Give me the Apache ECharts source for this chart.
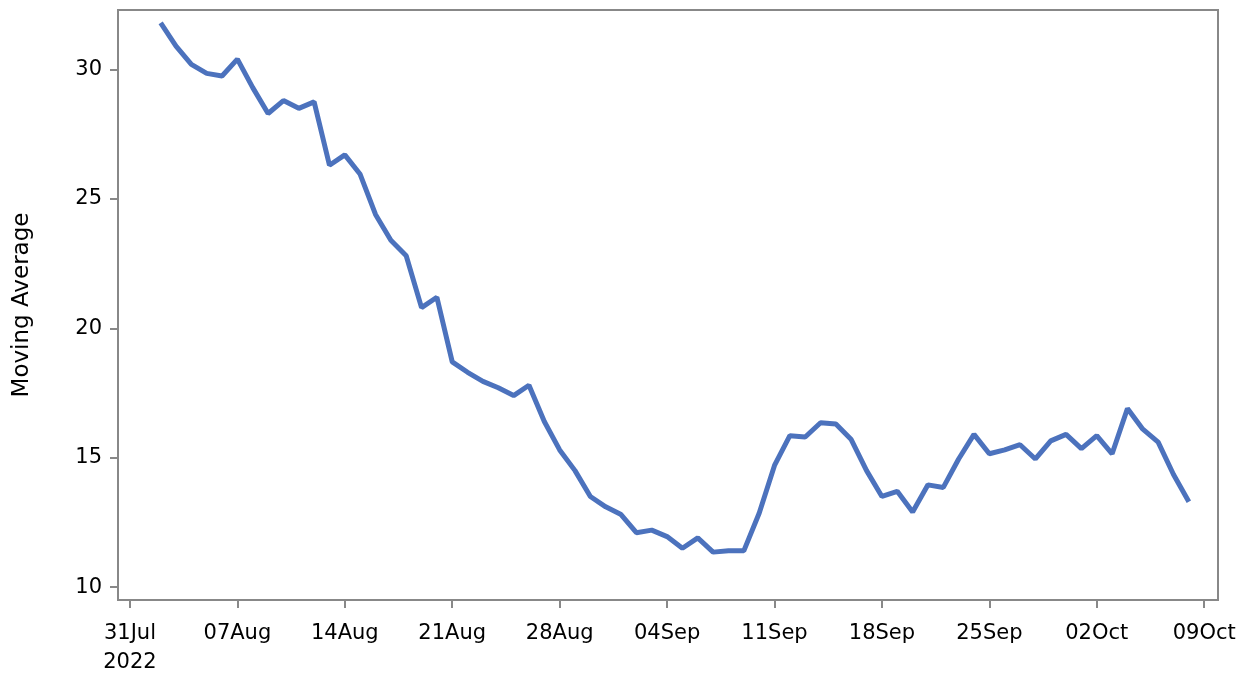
<!DOCTYPE html>
<html>
<head>
<meta charset="utf-8" />
<title></title>
<script src="https://cdn.jsdelivr.net/npm/echarts@6/dist/echarts.min.js"></script>
</head>
<body style="margin:0">
<div id="main" style="width:1250px;height:684px"></div>
<script type="text/javascript">
// daily values from 02 Aug 2022 to 08 Oct 2022
var startDate = Date.UTC(2022, 7, 2);
var values = [31.8, 30.9, 30.2, 29.85, 29.75, 30.4, 29.3, 28.3, 28.8, 28.5, 28.75, 26.3, 26.7, 25.95,
    24.4, 23.4, 22.8, 20.8, 21.2, 18.7, 18.3, 17.95, 17.7, 17.4, 17.8, 16.4, 15.3, 14.5, 13.5, 13.1,
    12.8, 12.1, 12.2, 11.95, 11.5, 11.9, 11.35, 11.4, 11.4, 12.85, 14.7, 15.85, 15.8, 16.35, 16.3,
    15.7, 14.5, 13.5, 13.7, 12.9, 13.95, 13.85, 14.95, 15.9, 15.15, 15.3, 15.5, 14.95, 15.65, 15.9,
    15.35, 15.85, 15.15, 16.9, 16.1, 15.6, 14.35, 13.3];
var yTicks = [10, 15, 20, 25, 30];
var months = ['Jan', 'Feb', 'Mar', 'Apr', 'May', 'Jun', 'Jul', 'Aug', 'Sep', 'Oct', 'Nov', 'Dec'];

var DAY = 86400000;
var firstTick = Date.UTC(2022, 6, 31);
var xTicks = [];
for (var i = 0; i <= 10; i++) xTicks.push(firstTick + i * 7 * DAY);
var points = values.map(function (v, i) { return [startDate + i * DAY, v]; });

var font = 'DejaVu Sans';
var myChart = echarts.init(document.getElementById('main'));
myChart.setOption({
    backgroundColor: 'white',
    grid: {left: 118, right: 32, top: 10, bottom: 84, show: true, borderColor: '#888', borderWidth: 2},
    xAxis: {
        type: 'value',
        min: firstTick - 0.78 * DAY,
        max: xTicks[10] + 0.9 * DAY,
        splitLine: {show: false},
        axisLine: {show: false},
        axisTick: {show: true, customValues: xTicks, length: 8, lineStyle: {color: '#888', width: 2}},
        axisLabel: {
            customValues: xTicks, color: '#000', fontFamily: font, fontSize: 21, lineHeight: 29, margin: 19,
            formatter: function (v) {
                var d = new Date(v);
                var s = ('0' + d.getUTCDate()).slice(-2) + months[d.getUTCMonth()];
                return v === firstTick ? s + '\n' + d.getUTCFullYear() : s;
            }
        }
    },
    yAxis: {
        type: 'value', min: 9.5, max: 32.3,
        name: 'Moving Average', nameLocation: 'middle', nameGap: 84,
        nameTextStyle: {color: '#000', fontFamily: font, fontSize: 23},
        splitLine: {show: false},
        axisLine: {show: false},
        axisTick: {show: true, customValues: yTicks, length: 8, lineStyle: {color: '#888', width: 2}},
        axisLabel: {customValues: yTicks, color: '#000', fontFamily: font, fontSize: 21, margin: 16}
    },
    series: [{
        type: 'line', data: points, showSymbol: false,
        lineStyle: {color: '#4c72bd', width: 5}
    }]
});
</script>
</body>
</html>
